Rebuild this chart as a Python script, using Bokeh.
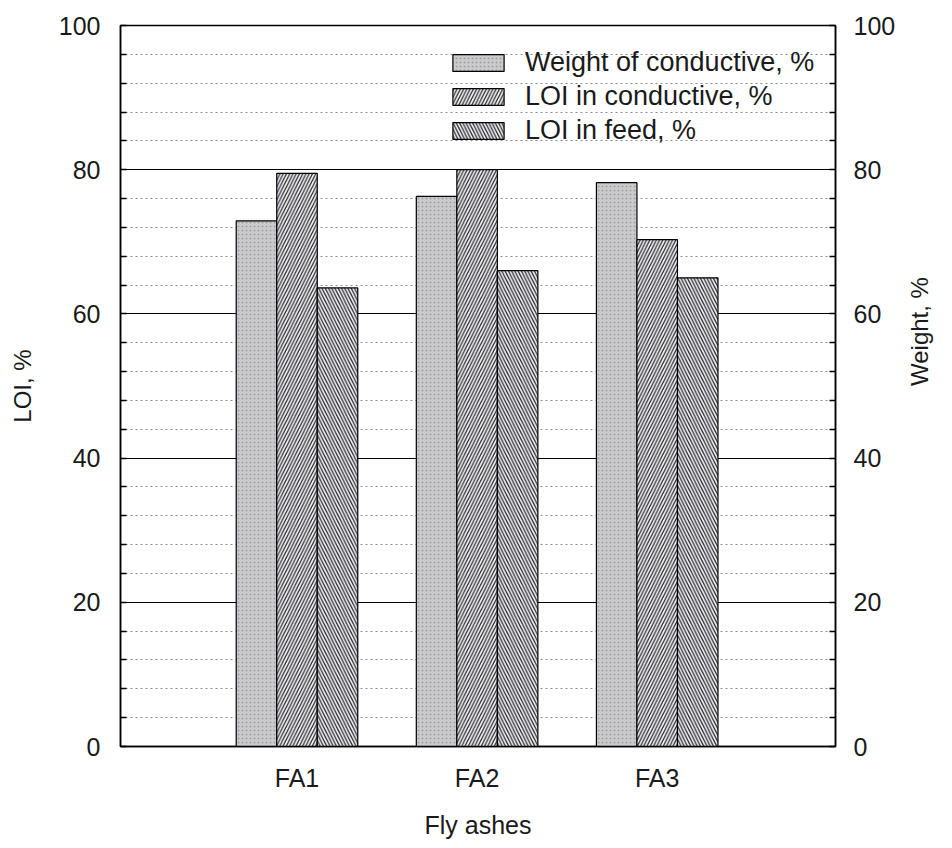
import math
from bokeh.plotting import figure
from bokeh.models import (ColumnDataSource, Range1d, LinearAxis, SingleIntervalTicker,
                          FixedTicker, Legend, LegendItem)
from bokeh.transform import dodge
from bokeh.embed import file_html
from bokeh.resources import INLINE

# ---- data ----
categories = ["FA1", "FA2", "FA3"]
weight_conductive = [72.9, 76.3, 78.2]   # Weight of conductive, % (right axis)
loi_conductive = [79.5, 80.0, 70.3]      # LOI in conductive, % (left axis)
loi_feed = [63.6, 66.0, 65.0]            # LOI in feed, % (left axis)

x_pos = [i + 1 for i in range(len(categories))]
src = ColumnDataSource(dict(x=x_pos, w=weight_conductive, lc=loi_conductive, lf=loi_feed))

FONT = "Liberation Sans"
TXT = "#1a1a1a"
BW = 0.225

p = figure(width=950, height=846, output_backend="svg", toolbar_location=None,
           x_range=Range1d(0.02, 3.99), y_range=Range1d(0, 100),
           min_border_left=120, min_border_right=115, min_border_top=25, min_border_bottom=100)
p.extra_y_ranges = {"w": Range1d(0, 100)}
p.background_fill_color = "white"
p.outline_line_color = "black"
p.outline_line_width = 1.5

r_w = p.vbar(x=dodge("x", -BW, range=p.x_range), top="w", width=BW, source=src,
             y_range_name="w", fill_color="#cbcbce", line_color="black", line_width=1.2,
             hatch_pattern="dot", hatch_color="#9e9ea4", hatch_scale=4, hatch_weight=1)
r_lc = p.vbar(x=dodge("x", 0, range=p.x_range), top="lc", width=BW, source=src,
              fill_color="#f4f4ee", line_color="black", line_width=1.2,
              hatch_pattern="right_diagonal_line", hatch_color="#2a2a3a", hatch_scale=6.5,
              hatch_weight=1.3)
r_lf = p.vbar(x=dodge("x", BW, range=p.x_range), top="lf", width=BW, source=src,
              fill_color="#f4f4ee", line_color="black", line_width=1.2,
              hatch_pattern="left_diagonal_line", hatch_color="#2a2a3a", hatch_scale=6.5,
              hatch_weight=1.3)

# grids
p.xgrid.visible = False
p.ygrid.ticker = SingleIntervalTicker(interval=20, num_minor_ticks=5)
p.ygrid.grid_line_color = "black"
p.ygrid.grid_line_width = 1.2
p.ygrid.minor_grid_line_color = "#8a8a9a"
p.ygrid.minor_grid_line_dash = "2 3"
p.ygrid.minor_grid_line_width = 1.2

def style_y(ax, tick_standoff, label_standoff):
    ax.ticker = SingleIntervalTicker(interval=20, num_minor_ticks=5)
    ax.axis_line_color = "black"
    ax.axis_line_width = 1.5
    ax.major_tick_in = 0
    ax.major_tick_out = 0
    ax.minor_tick_in = 6
    ax.minor_tick_out = 0
    ax.minor_tick_line_color = "black"
    ax.minor_tick_line_width = 1.5
    ax.major_label_text_font = FONT
    ax.major_label_text_font_size = "25px"
    ax.major_label_text_color = TXT
    ax.major_label_standoff = tick_standoff
    ax.axis_label_text_font = FONT
    ax.axis_label_text_font_size = "24px"
    ax.axis_label_text_font_style = "normal"
    ax.axis_label_text_color = TXT
    ax.axis_label_standoff = label_standoff

ly = p.yaxis[0]
style_y(ly, 20, 20)
ly.axis_label = "LOI, %"

ry = LinearAxis(y_range_name="w", axis_label="Weight, %")
style_y(ry, 18, 21)
ry.axis_label_orientation = math.pi / 2
p.add_layout(ry, "right")

xa = p.xaxis[0]
xa.ticker = FixedTicker(ticks=x_pos)
xa.major_label_overrides = {x: c for x, c in zip(x_pos, categories)}
xa.axis_label = "Fly ashes"
xa.axis_line_color = "black"
xa.axis_line_width = 1.5
xa.major_tick_in = 0
xa.major_tick_out = 0
xa.minor_tick_in = 0
xa.minor_tick_out = 0
xa.major_label_text_font = FONT
xa.major_label_text_font_size = "25px"
xa.major_label_text_color = TXT
xa.major_label_standoff = 17
xa.axis_label_text_font = FONT
xa.axis_label_text_font_size = "25px"
xa.axis_label_text_font_style = "normal"
xa.axis_label_text_color = TXT
xa.axis_label_standoff = 16

legend = Legend(items=[
    LegendItem(label="Weight of conductive, %", renderers=[r_w]),
    LegendItem(label="LOI in conductive, %", renderers=[r_lc]),
    LegendItem(label="LOI in feed, %", renderers=[r_lf]),
], location=(326, 600))
legend.background_fill_alpha = 0
legend.border_line_color = None
legend.padding = 0
legend.margin = 0
legend.spacing = 3
legend.glyph_width = 64
legend.glyph_height = 21
legend.label_height = 21
legend.label_standoff = 15
legend.label_text_font = FONT
legend.label_text_font_size = "27px"
legend.label_text_color = TXT
p.add_layout(legend, "center")

open("out.html", "w").write(file_html(p, INLINE))
